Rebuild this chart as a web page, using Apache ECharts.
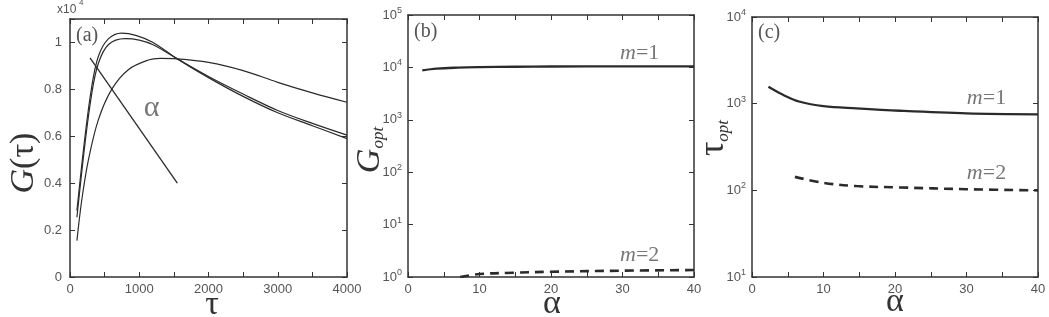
<!DOCTYPE html>
<html>
<head>
<meta charset="utf-8">
<script src="https://cdn.jsdelivr.net/npm/echarts@6/dist/echarts.min.js"></script>
<style>
  html, body { margin: 0; padding: 0; background: #fff; }
  #main { width: 1049px; height: 317px; }
</style>
</head>
<body>
<div id="main"></div>
<script>
// panel (a): G(tau), units of 1e4
var curveA1 = [[100,0.283],[217,0.60],[313,0.81],[409,0.94],[553,1.015],[746,1.04],[950,1.03],[1200,1.0],[1550,0.93],[2000,0.85],[2500,0.77],[3000,0.70],[3500,0.645],[4000,0.59]];
var curveA2 = [[100,0.255],[217,0.57],[313,0.78],[409,0.91],[553,0.99],[794,1.016],[1000,1.01],[1200,0.99],[1550,0.93],[2000,0.855],[2500,0.78],[3000,0.71],[3500,0.655],[4000,0.605]];
var curveA3 = [[100,0.155],[169,0.326],[265,0.498],[409,0.67],[602,0.80],[842,0.884],[1131,0.925],[1300,0.932],[1550,0.93],[2000,0.915],[2500,0.88],[3000,0.83],[3500,0.785],[4000,0.745]];
var arrowA = [[289,0.934],[1550,0.40]];

// panel (b): G_opt vs alpha
var gOptM1 = [[2,8800],[4,9500],[7,9900],[10,10100],[15,10300],[20,10400],[30,10500],[40,10500]];
var gOptM2 = [[7.3,1.0],[10,1.14],[15,1.21],[20,1.26],[30,1.32],[40,1.36]];

// panel (c): tau_opt vs alpha
var tOptM1 = [[2.3,1567],[4.4,1257],[6.7,1052],[10,938],[14.6,883],[20.7,828],[30,773],[40,754]];
var tOptM2 = [[6,143],[10,122],[14.6,112],[20.7,108],[30,103],[40,100]];

var xTicksA = [0, 1000, 2000, 3000, 4000];
var yTicksA = [0, 0.2, 0.4, 0.6, 0.8, 1];
var xTicksBC = [0, 10, 20, 30, 40];

var chart = echarts.init(document.getElementById('main'));

var lineCol = '#2b2b2b';
var axisCol = '#333';
var sans = 'Liberation Sans, Arial, sans-serif';
var serif = 'Liberation Serif, DejaVu Serif, serif';
var tickFont = { color: '#555', fontSize: 13, fontFamily: sans };

var grids = [
    { left: 70, top: 19, width: 277, height: 258, containLabel: false, outerBoundsMode: 'none' },
    { left: 408, top: 15, width: 286, height: 262, containLabel: false, outerBoundsMode: 'none' },
    { left: 752, top: 17, width: 286, height: 260, containLabel: false, outerBoundsMode: 'none' }
];

function frameAxis(gi, pos, extra) {
    var ax = {
        gridIndex: gi,
        position: pos,
        axisLine: { show: true, onZero: false, lineStyle: { color: axisCol, width: 1.5 } },
        axisTick: { show: true, inside: true, length: 5, lineStyle: { color: '#333', width: 1 } },
        splitLine: { show: false },
        axisLabel: { show: false }
    };
    return Object.assign(ax, extra);
}

function logLabel(v) {
    return '10{sup|' + Math.round(Math.log10(v)) + '}';
}
var logRich = { sup: { fontSize: 9, fontFamily: sans, color: '#555', verticalAlign: 'top', padding: [0, 0, 9, 0] } };

function tickOnly(list) {
    return function (v) {
        for (var i = 0; i < list.length; i++) {
            if (Math.abs(list[i] - v) < 1e-6) return String(list[i]);
        }
        return '';
    };
}

var xAxes = [
    frameAxis(0, 'bottom', { type: 'value', min: 0, max: 4000, interval: 500,
        axisLabel: { show: true, formatter: tickOnly(xTicksA), margin: 6, textStyle: tickFont } }),
    frameAxis(0, 'top', { type: 'value', min: 0, max: 4000, interval: 500 }),
    frameAxis(1, 'bottom', { type: 'value', min: 0, max: 40, interval: 5,
        axisLabel: { show: true, formatter: tickOnly(xTicksBC), margin: 6, textStyle: tickFont } }),
    frameAxis(1, 'top', { type: 'value', min: 0, max: 40, interval: 5 }),
    frameAxis(2, 'bottom', { type: 'value', min: 0, max: 40, interval: 5,
        axisLabel: { show: true, formatter: tickOnly(xTicksBC), margin: 6, textStyle: tickFont } }),
    frameAxis(2, 'top', { type: 'value', min: 0, max: 40, interval: 5 })
];

var yAxes = [
    frameAxis(0, 'left', { type: 'value', min: 0, max: 1.1, interval: 0.2,
        axisLabel: { show: true, formatter: tickOnly(yTicksA), margin: 8, textStyle: tickFont } }),
    frameAxis(0, 'right', { type: 'value', min: 0, max: 1.1, interval: 0.2 }),
    frameAxis(1, 'left', { type: 'log', logBase: 10, min: 1, max: 100000,
        axisLabel: { show: true, formatter: logLabel, margin: 6, textStyle: tickFont, rich: logRich } }),
    frameAxis(1, 'right', { type: 'log', logBase: 10, min: 1, max: 100000 }),
    frameAxis(2, 'left', { type: 'log', logBase: 10, min: 10, max: 10000,
        axisLabel: { show: true, formatter: logLabel, margin: 6, textStyle: tickFont, rich: logRich } }),
    frameAxis(2, 'right', { type: 'log', logBase: 10, min: 10, max: 10000 })
];

function curve(data, xi, yi, width, dashed) {
    return {
        type: 'line', xAxisIndex: xi, yAxisIndex: yi, data: data,
        smooth: 0.35, showSymbol: false, silent: true,
        lineStyle: { color: lineCol, width: width, type: dashed ? [9, 6] : 'solid' }
    };
}

function note(text, x, y, xi, yi, size) {
    return {
        type: 'scatter', xAxisIndex: xi, yAxisIndex: yi, symbolSize: 0, silent: true,
        data: [[x, y]],
        label: { show: true, position: 'inside', formatter: text, fontFamily: serif, fontSize: size, color: '#555',
            rich: { i: { fontFamily: serif, fontSize: size, fontStyle: 'italic', color: '#555' } } }
    };
}

var series = [
    curve(curveA1, 0, 0, 1.2, false),
    curve(curveA2, 0, 0, 1.2, false),
    curve(curveA3, 0, 0, 1.2, false),
    {
        type: 'line', xAxisIndex: 0, yAxisIndex: 0, data: arrowA, showSymbol: false, silent: true,
        symbol: 'none', lineStyle: { color: lineCol, width: 1.3 }
    },
    note('α', 1180, 0.72, 0, 0, 30),
    curve(gOptM1, 2, 2, 2.3, false),
    curve(gOptM2, 2, 2, 2.6, true),
    note('{i|m}=1', 32.4, 18600, 2, 2, 22),
    note('{i|m}=2', 32.4, 2.6, 2, 2, 22),
    curve(tOptM1, 4, 4, 2.3, false),
    curve(tOptM2, 4, 4, 2.6, true),
    note('{i|m}=1', 32.8, 1150, 4, 4, 22),
    note('{i|m}=2', 32.8, 157, 4, 4, 22)
];

var panelText = { fontFamily: serif, fontSize: 20, fill: '#555' };
var yTitle = function (x, y, text, rich) {
    return { type: 'text', x: x, y: y, rotation: Math.PI / 2,
        style: { text: text, align: 'center', verticalAlign: 'middle', fill: '#333', rich: rich } };
};
var xTitle = function (x, y, text) {
    return { type: 'text', x: x, y: y,
        style: { text: text, align: 'center', verticalAlign: 'middle', fill: '#333', fontFamily: serif, fontSize: 34 } };
};

chart.setOption({
    animation: false,
    grid: grids,
    xAxis: xAxes,
    yAxis: yAxes,
    series: series,
    graphic: [
        { type: 'text', left: 76, top: 26, style: Object.assign({ text: '(a)' }, panelText) },
        { type: 'text', left: 414, top: 22, style: Object.assign({ text: '(b)' }, panelText) },
        { type: 'text', left: 758, top: 23, style: Object.assign({ text: '(c)' }, panelText) },
        { type: 'text', left: 57, top: 4, style: { text: 'x10', fontFamily: sans, fontSize: 12, fill: '#555' } },
        { type: 'text', left: 79, top: -1, style: { text: '4', fontFamily: sans, fontSize: 8, fill: '#555' } },
        xTitle(212, 305, 'τ'),
        xTitle(552, 304, 'α'),
        xTitle(895, 302, 'α'),
        yTitle(24, 163, '{g|G}{p|(τ)}', {
            g: { fontFamily: serif, fontSize: 34, fontStyle: 'italic', fill: '#333' },
            p: { fontFamily: serif, fontSize: 34, fill: '#333' } }),
        yTitle(370, 150, '{g|G}{s|opt}', {
            g: { fontFamily: serif, fontSize: 34, fontStyle: 'italic', fill: '#333' },
            s: { fontFamily: serif, fontSize: 17, fontStyle: 'italic', fill: '#333', verticalAlign: 'bottom', padding: [14, 0, 0, 0] } }),
        yTitle(714, 138, '{g|τ}{s|opt}', {
            g: { fontFamily: serif, fontSize: 36, fill: '#333' },
            s: { fontFamily: serif, fontSize: 17, fontStyle: 'italic', fill: '#333', verticalAlign: 'bottom', padding: [14, 0, 0, 0] } })
    ]
});
</script>
</body>
</html>
